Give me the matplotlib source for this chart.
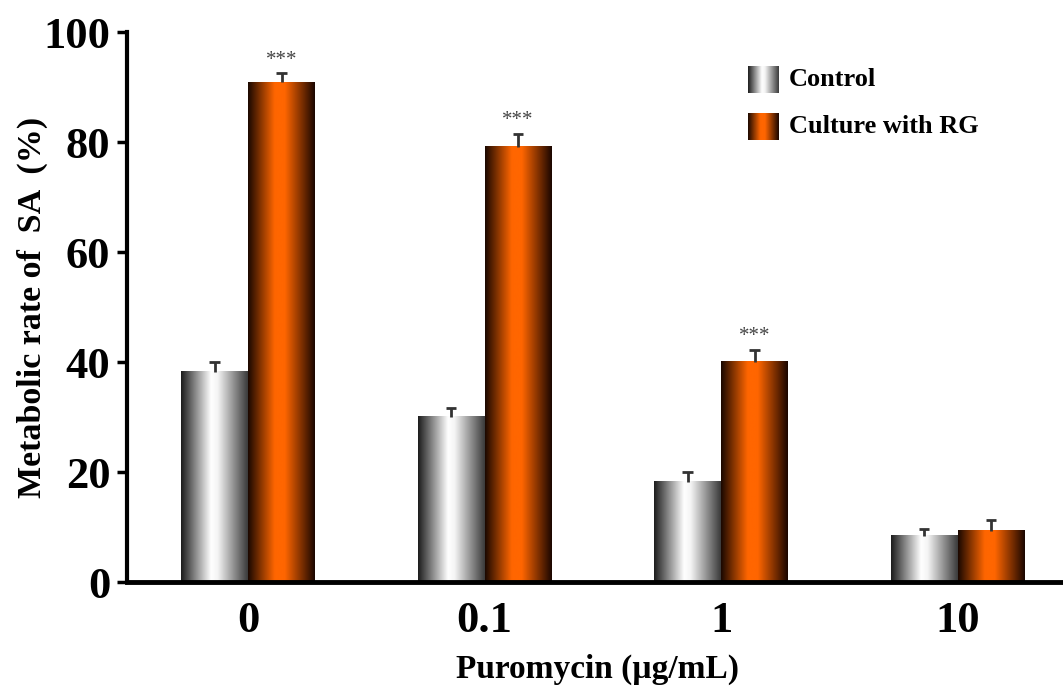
import matplotlib
matplotlib.use('Agg')
import matplotlib.pyplot as plt
import numpy as np
from matplotlib.colors import LinearSegmentedColormap

plt.rcParams['font.family'] = ['Liberation Serif', 'DejaVu Serif']
plt.rcParams['font.weight'] = 'bold'

# 数据
doses = ['0', '0.1', '1', '10']
control = [38.2, 30.0, 18.2, 8.4]
control_err = [1.8, 1.6, 1.8, 1.3]
rg = [90.9, 79.1, 40.0, 9.3]
rg_err = [1.6, 2.4, 2.2, 2.0]
stars = ['***', '***', '***', '']
series_names = ['Control', 'Culture with RG']

# 柱子的渐变色（圆柱效果）
cmap_ctrl = LinearSegmentedColormap.from_list(
    'ctrl', [(0, '#1c1c1c'), (0.45, '#ffffff'), (0.55, '#f4f4f4'), (1, '#3a3a3a')])
cmap_rg = LinearSegmentedColormap.from_list(
    'rg', [(0, '#1a0800'), (0.4, '#ff6600'), (0.55, '#ff6600'), (1, '#1a0600')])
grad = np.linspace(0, 1, 256).reshape(1, -1)


def gradient_bar(ax, x0, w, h, cmap):
    ax.imshow(grad, cmap=cmap, extent=[x0, x0 + w, 0, h], aspect='auto',
              interpolation='bicubic', zorder=2)


def up_err(ax, xs, ys, errs, cap=0.022):
    # 只画上半部分误差线（T形）
    xs = np.asarray(xs)
    ys = np.asarray(ys)
    tops = ys + np.asarray(errs)
    ax.vlines(xs, ys, tops, color='#333333', lw=2, zorder=3)
    ax.hlines(tops, xs - cap, xs + cap, color='#333333', lw=2, zorder=3)


fig = plt.figure(figsize=(10.63, 6.87), dpi=100)
ax = fig.add_axes([0.1195, 0.1528, 0.8805, 0.8006])

x = np.arange(len(doses))
w = 0.283
for i in range(len(doses)):
    gradient_bar(ax, x[i] - w, w, control[i], cmap_ctrl)
    gradient_bar(ax, x[i], w, rg[i], cmap_rg)

up_err(ax, x - w / 2, control, control_err)
up_err(ax, x + w / 2, rg, rg_err)

for i, s in enumerate(stars):
    if s:
        ax.text(x[i] + w / 2, rg[i] + rg_err[i] + 2.4, s, ha='center', va='center',
                fontsize=15, fontweight='normal', color='#444444')

ax.set_xlim(-0.512, 3.446)
ax.set_ylim(0, 100)
ax.set_xticks(x)
ax.set_xticklabels(doses, fontsize=32, fontweight='bold')
ax.set_yticks([0, 20, 40, 60, 80, 100])
ax.set_yticklabels(['0', '20', '40', '60', '80', '100'], fontsize=32, fontweight='bold')
ax.tick_params(axis='x', length=0, pad=14)
ax.tick_params(axis='y', direction='out', length=7, width=2.5, pad=5)

for s in ['top', 'right']:
    ax.spines[s].set_visible(False)
ax.spines['left'].set_linewidth(3)
ax.spines['bottom'].set_linewidth(3.5)

ax.set_xlabel('Puromycin (µg/mL)', fontsize=24, fontweight='bold')
ax.xaxis.set_label_coords(0.503, -0.13)
ax.set_ylabel('Metabolic rate of  SA  (%)', fontsize=24.5, fontweight='bold')
ax.yaxis.set_label_coords(-0.0844, 0.5)

# 图例
for j, (name, cm) in enumerate(zip(series_names, [cmap_ctrl, cmap_rg])):
    top = 687 - 66 - j * 47
    lax = fig.add_axes([748 / 1063, (top - 27) / 687, 30 / 1063, 27 / 687])
    lax.imshow(grad, cmap=cm, aspect='auto', interpolation='bicubic')
    lax.axis('off')
    fig.text(789 / 1063, (top - 13.5) / 687, name, fontsize=19, fontweight='bold',
             va='center', ha='left')

fig.savefig('out.png', dpi=100)
